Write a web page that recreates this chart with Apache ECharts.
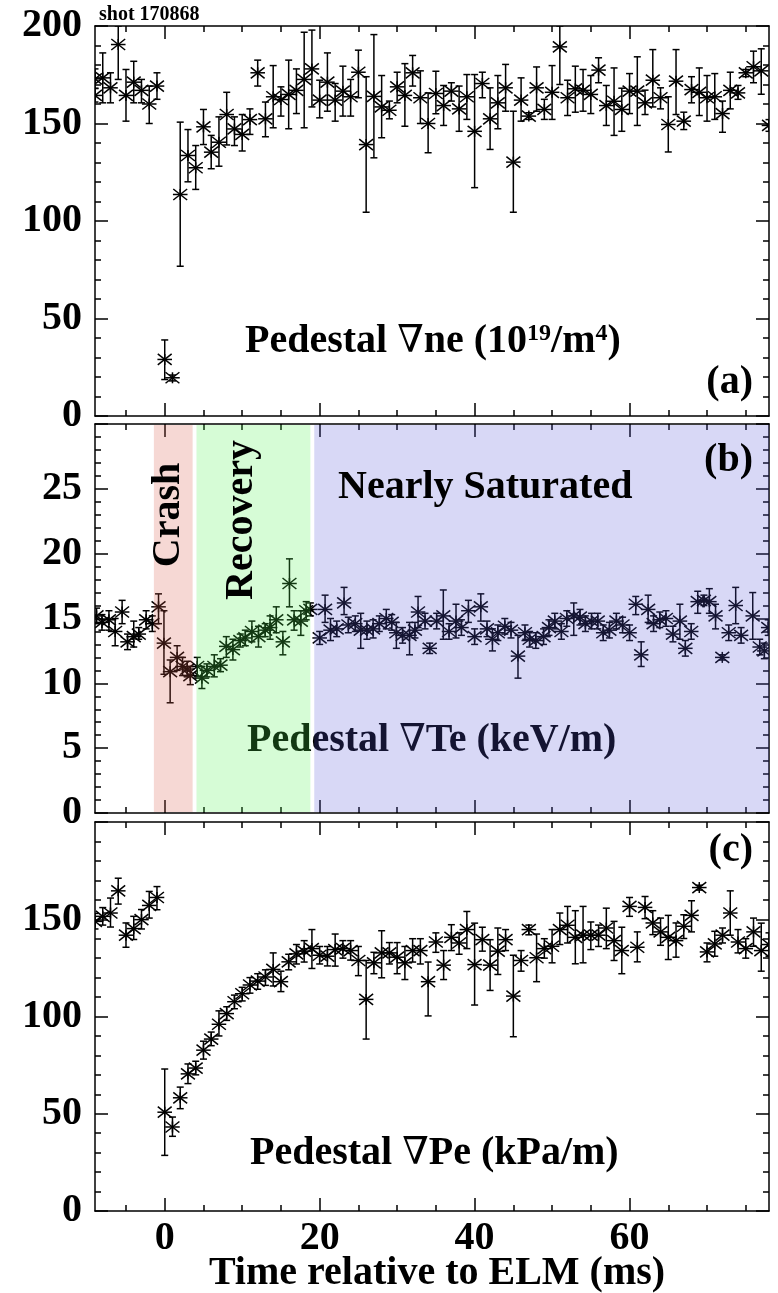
<!DOCTYPE html>
<html><head><meta charset="utf-8">
<script src="https://cdn.jsdelivr.net/npm/echarts@6/dist/echarts.min.js"></script>
<style>html,body{margin:0;padding:0;background:#fff}#c{width:778px;height:1293px}</style>
</head><body><div id="c"></div>
<script>
// ---------- tick labels ----------
const xMajorTicks = [0, 20, 40, 60];
const xMinorTicks = [-5, 5, 10, 15, 25, 30, 35, 45, 50, 55, 65, 70, 75];

// ---------- panel (a): Pedestal grad ne ----------
const neTime = [-9,-9,-8,-7,-6,-5,-4,-3,-2,-1,
  0,1,2,3,4,5,6,7,8,9, 10,11,12,13,14,15,16,17,18,19, 20,21,22,23,24,25,26,27,28,29,
  30,31,32,33,34,35,36,37,38,39, 40,41,42,43,44,45,46,47,48,49, 50,51,52,53,54,55,56,57,58,59,
  60,61,62,63,64,65,66,67,68,69, 70,71,72,73,74,75,76,77,78];
const neValue = [172.9,164.4,173.4,168.3,190.5,164.4,171.2,167.0,160.0,169.2,
  29.0,19.6,113.6,133.6,127.3,148.3,135.3,140.4,154.6,147.2,
  144.4,152.0,176.0,152.4,163.7,162.3,164.9,167.0,172.6,178.0,
  162.0,171.2,162.0,166.6,163.7,176.3,139.2,163.9,158.5,156.8,
  168.8,164.4,176.0,163.2,150.0,165.4,159.2,166.6,157.5,163.7,
  146.0,170.5,152.4,160.6,168.3,130.2,162.0,153.8,168.3,157.2,
  166.0,189.3,163.2,167.8,167.0,164.9,177.4,159.2,161.4,157.2,
  166.6,166.6,160.6,172.2,163.2,149.5,171.7,151.2,167.4,166.0,
  163.2,163.7,155.1,167.0,165.7,176.0,179.1,177.0,149.0];
const neLow = [168,161,160.6,160.6,172.6,151.2,160.6,160.6,150,162.4,
  18.7,18,76.8,120.1,116.2,139.2,126.8,128.1,139,138.7,
  135.9,144.4,169.2,143.2,147.8,153.8,147.3,155.1,147.8,158.5,
  152.9,156.3,151.2,153.8,153.8,163.2,104.5,132.4,142.7,152.4,
  160.6,148.6,169.2,150,135,155,149,161.5,146,152.1,
  117.1,163.2,136.7,147.3,156.3,104.5,151.2,152.1,156.3,152.1,
  152.1,170,154.1,155.8,156.3,155.1,170.9,149,143.9,146,
  155.1,149,154.6,158.5,157.5,135.4,154.6,146.9,160.6,154.1,
  151.2,152.1,145.5,157.5,162.4,174,170.9,165,146];
const neHigh = [178,168,186.2,176,200,177.7,181.9,172.6,169.2,176,
  39,21,150.7,146.9,138.7,157.2,143.9,153.4,166,153.4,
  154.6,157.5,182.5,161,179.7,168.8,182.5,178,196.8,197.9,
  172.2,186.2,170.5,179.4,172.6,187.6,174,195.6,174.6,161.5,
  176.3,180.7,184.9,177,165.7,176.8,169.5,170.9,169.2,175.1,
  175.1,176.3,168.3,174.6,180.3,156.3,173.4,155.5,179,162.4,
  179.7,200,172.2,179.4,177.7,174.6,183.7,169.5,178.5,168.1,
  175.6,184.2,167.1,187.9,168.3,163.7,187.9,155.8,174,178.5,
  174.6,175.6,161.5,176.3,169.5,177.7,187.1,188.3,152];

// ---------- panel (b): Pedestal grad Te ----------
const teTime = [-8.8,-8.1,-7.2,-6.4,-5.5,-4.8,-4.0,-3.35,-2.4,-1.6,
  -0.8,-0.1,0.7,1.6,2.3,2.9,3.3,4.2,4.8,5.45,
  6.4,7.2,7.95,8.8,9.75,10.4,11.25,12.1,12.97,13.6,
  14.4,15.25,16.1,16.7,17.57,18.26,18.8,20.0,20.7,21.4,
  22.2,23.15,23.7,24.6,25.3,26.1,26.9,27.7,28.6,29.3,
  29.9,30.7,31.6,32.3,32.7,33.6,34.2,35.1,35.96,36.7,
  37.6,38.3,39.2,40.0,40.8,41.6,42.3,43.0,43.9,44.7,
  45.6,46.5,47.1,47.9,48.9,49.6,50.35,51.2,51.9,52.8,
  53.6,54.3,55.1,55.9,56.6,57.4,58.3,59.1,60.0,60.8,
  61.5,62.4,63.1,63.9,64.7,65.6,66.5,67.2,67.96,68.8,
  69.6,70.3,71.1,71.97,72.8,73.7,74.4,75.9,76.8,77.4,77.9];
const teValue = [15.2,14.7,14.9,14.0,15.5,13.2,13.6,13.8,14.9,14.6,
  15.9,13.1,10.9,12.0,11.3,11.1,10.6,11.3,10.4,11.0,
  11.3,11.4,12.85,12.6,13.3,13.5,14.0,13.6,14.1,14.3,
  14.9,13.2,17.7,14.9,14.8,15.6,15.7,13.5,15.7,14.1,
  14.2,16.2,14.5,14.6,14.1,14.1,14.2,14.6,15.0,14.7,
  13.9,13.7,13.7,14.1,15.5,14.8,12.7,14.8,15.2,14.0,
  14.8,14.3,15.6,13.6,15.9,14.2,13.4,13.9,14.4,14.1,
  12.1,13.9,13.4,13.3,13.6,14.3,14.8,14.0,15.0,15.2,
  15.1,14.6,14.8,14.8,13.9,14.1,14.8,14.5,13.9,16.1,
  12.2,15.7,14.6,14.9,15.0,13.8,14.8,12.7,14.0,16.3,
  16.4,16.3,15.2,12.0,13.9,16.0,13.7,15.2,12.8,12.5,14.3];
const teLow = [14.6,14.1,14.1,12.9,14.6,12.6,12.8,13.4,14.2,14.0,
  14.6,10.7,8.5,11.0,10.6,10.5,9.9,10.5,9.6,10.5,
  10.5,10.9,12.0,11.8,12.8,12.9,13.2,12.8,13.6,13.4,
  13.9,12.2,15.9,14.1,13.7,14.9,15.2,13.0,14.7,13.3,
  13.6,15.3,13.9,14.0,12.7,13.4,13.5,14.0,14.2,14.1,
  12.7,13.1,12.2,13.5,14.3,14.2,12.3,14.2,13.4,13.4,
  13.5,13.7,14.7,13.0,14.8,13.6,12.5,13.3,13.8,13.5,
  10.4,13.3,12.8,12.7,13.0,13.7,14.2,13.4,14.4,13.7,
  14.5,14.0,14.2,14.2,13.3,13.5,14.2,13.9,13.3,15.3,
  11.3,14.7,14.0,14.3,14.4,13.2,13.4,12.1,13.4,15.4,
  16.0,15.4,14.2,11.8,13.3,14.6,13.1,13.4,12.2,11.9,13.7];
const teHigh = [15.8,15.3,15.6,15.0,16.4,13.8,14.8,14.3,15.6,15.2,
  16.9,15.6,11.8,12.9,12.0,11.7,11.3,12.0,11.3,11.5,
  12.2,11.9,13.6,13.4,13.8,14.1,14.8,14.4,14.6,15.2,
  15.9,14.0,19.6,15.6,15.6,16.3,16.2,14.0,16.8,15.0,
  14.8,17.4,15.1,15.2,15.4,14.8,14.9,15.2,15.7,15.3,
  14.7,14.3,14.7,14.7,16.7,15.4,13.1,15.4,17.2,14.6,
  16.1,14.9,16.4,14.2,16.9,14.8,14.2,14.5,15.0,14.7,
  13.7,14.5,14.0,13.9,14.2,14.9,15.4,14.6,15.6,16.2,
  15.7,15.2,15.4,15.4,14.5,14.7,15.4,15.1,14.5,16.7,
  13.2,16.8,15.2,15.5,15.6,14.4,16.1,13.3,14.6,17.1,
  16.8,17.3,16.1,12.2,14.5,17.4,14.3,17.0,13.4,13.1,14.9];

// phases shown in panel (b)
const phaseStart = [-1.4, 4.1, 19.3];
const phaseEnd = [3.6, 18.8, 78];

// ---------- panel (c): Pedestal grad Pe ----------
const peTime = [-9,-8,-7,-6,-5,-4,-3,-2,-1,
  0,1,2,3,4,5,6,7,8,9, 10,11,12,13,14,15,16,17,18,19, 20,21,22,23,24,25,26,27,28,29,
  30,31,32,33,34,35,36,37,38,39, 40,41,42,43,44,45,46,47,48,49, 50,51,52,53,54,55,56,57,58,59,
  60,61,62,63,64,65,66,67,68,69, 70,71,72,73,74,75,76,77,78];
const peValue = [148.9,151.5,153.2,164.6,141.8,145.2,149.8,157.1,161.2,
  50.8,43.2,58.2,70.5,73.5,82.7,88.4,96.0,101.5,107.6,
  111.7,116.2,118.2,120.3,124.2,117.9,128.1,132.2,133.6,134.9,
  131.5,131.0,134.4,134.9,133.9,128.8,108.8,127.6,132.7,132.7,
  130.5,127.6,133.9,133.9,117.9,138.3,126.4,140.7,137.8,144.7,
  126.7,139.5,126.4,133.6,139.5,110.5,128.8,144.7,130.2,134.9,
  136.1,144.7,146.9,140.7,141.8,141.8,141.8,145.5,139.0,133.9,
  156.6,135.6,156.1,148.1,143.5,140.7,139.0,146.4,152.0,166.3,
  133.2,137.3,141.8,153.2,138.3,134.9,143.5,133.9,137.0];
const peLow = [145,147,146,157.8,135.6,139.6,145,150.6,154.9,
  28.6,38.4,52.6,65.5,70,78.1,85,90,98,104,
  108,112,114,116,115.7,112.8,124,127,128,124.7,
  127,126,125.9,130,129,121,88.4,122,119.9,127,
  122,119,128,127,100.3,133,119,133.9,132,134.9,
  105.9,133.6,113.4,121.6,133.9,89.6,123.3,142,117.9,130,
  127.6,137,137.8,127.1,127.6,134.4,136,134.9,128.8,122,
  151.5,128.1,150.3,142.1,136.6,129.3,130.5,140.1,143.5,165,
  128.1,131,137.8,141.8,132.7,130,136.1,123.3,131];
const peHigh = [153,156,160.9,171.1,148.1,151.5,155,164.3,166.8,
  73,48.3,63.7,75.6,77,87.3,92,102.9,105,111,
  115,120,122,124,132.7,123.3,132,137,139,144.7,
  136,136,142.4,139,139,136,128.8,133,144.1,138,
  138,136,140,140,128,143,133.9,147.2,143,154,
  148,145.9,139.5,145.5,144.7,131.5,133.9,147,142.4,140,
  144.7,153.2,156.6,154.4,156.6,148.6,147,155.7,148.9,145.9,
  161.2,143.5,161.7,154.4,150.6,152,148.1,152.3,159.5,167.5,
  137.8,143.8,145.5,164.6,144.7,140,150.6,148,143];

// ---------- build ----------
const FONT = '"Liberation Serif","Times New Roman",serif';
const phaseColors = ['rgba(216,87,69,0.23)', 'rgba(78,242,78,0.23)', 'rgba(87,87,216,0.23)'];
const zip = (t, v, lo, hi) => t.map((x, i) => [x, v[i], lo[i], hi[i]]);

function renderPoint(params, api) {
  const t = api.value(0);
  const p = api.coord([t, api.value(1)]);
  const pl = api.coord([t, api.value(2)]);
  const ph = api.coord([t, api.value(3)]);
  const cw = 3.5, mx = 7.3, my = 5.5;
  const st = { stroke: '#000', lineWidth: 1.5, fill: null };
  const L = (x1, y1, x2, y2) => ({ type: 'line', shape: { x1, y1, x2, y2 }, style: st });
  return { type: 'group', children: [
    L(p[0], ph[1], p[0], pl[1]),
    L(p[0] - cw, ph[1], p[0] + cw, ph[1]),
    L(p[0] - cw, pl[1], p[0] + cw, pl[1]),
    L(p[0] - mx, p[1], p[0] + mx, p[1]),
    L(p[0] - mx * 0.95, p[1] - my, p[0] + mx * 0.95, p[1] + my),
    L(p[0] - mx * 0.95, p[1] + my, p[0] + mx * 0.95, p[1] - my),
    L(p[0], p[1] - my, p[0], p[1] + my)
  ]};
}

const grids = [
  { left: 95, right: 9, top: 26, height: 390 },
  { left: 95, right: 9, top: 424, height: 389 },
  { left: 95, right: 9, top: 822, height: 389 }
];
const yCfg = [
  { max: 200, interval: 50, showMax: true },
  { max: 30, interval: 5, showMax: false },
  { max: 200, interval: 50, showMax: false }
];
const lineStyle = { color: '#000', width: 1.5 };
const xAxes = [], yAxes = [];
grids.forEach((g, gi) => {
  [['bottom', true], ['bottom', false], ['top', true], ['top', false]].forEach(([pos, major]) => {
    xAxes.push({
      type: 'value', gridIndex: gi, position: pos, min: -9, max: 78,
      axisLine: { show: major, onZero: false, lineStyle },
      axisTick: { show: true, inside: true, length: major ? 13 : 6, lineStyle, customValues: major ? xMajorTicks : xMinorTicks },
      axisLabel: (gi === 2 && pos === 'bottom' && major) ? {
        show: true, customValues: xMajorTicks, margin: 8, color: '#000',
        fontSize: 40, fontWeight: 'bold', fontFamily: FONT
      } : { show: false },
      splitLine: { show: false }
    });
  });
  ['left', 'right'].forEach(pos => {
    yAxes.push({
      type: 'value', gridIndex: gi, position: pos, min: 0, max: yCfg[gi].max, interval: yCfg[gi].interval,
      axisLine: { show: true, onZero: false, lineStyle },
      axisTick: { show: true, inside: true, length: 13, lineStyle },
      minorTick: { show: true, splitNumber: 5, length: 6, lineStyle },
      axisLabel: pos === 'left' ? {
        show: true, margin: 13, color: '#000', fontSize: 40, fontWeight: 'bold', fontFamily: FONT,
        showMaxLabel: yCfg[gi].showMax
      } : { show: false },
      splitLine: { show: false }
    });
  });
});

const series = [
  { type: 'custom', xAxisIndex: 0, yAxisIndex: 0, clip: true, renderItem: renderPoint,
    encode: { x: 0, y: 1 }, data: zip(neTime, neValue, neLow, neHigh), z: 2 },
  { type: 'custom', xAxisIndex: 4, yAxisIndex: 2, clip: true, renderItem: renderPoint,
    encode: { x: 0, y: 1 }, data: zip(teTime, teValue, teLow, teHigh), z: 2 },
  { type: 'custom', xAxisIndex: 4, yAxisIndex: 2, clip: true, z: 3,
    data: phaseStart.map((s, i) => [s, phaseEnd[i]]),
    renderItem: (params, api) => {
      const a = api.coord([api.value(0), 30]);
      const b = api.coord([api.value(1), 0]);
      return { type: 'rect', shape: { x: a[0], y: a[1] + 1, width: b[0] - a[0], height: b[1] - a[1] - 2 },
        style: { fill: phaseColors[params.dataIndex] } };
    } },
  { type: 'custom', xAxisIndex: 8, yAxisIndex: 4, clip: true, renderItem: renderPoint,
    encode: { x: 0, y: 1 }, data: zip(peTime, peValue, peLow, peHigh), z: 2 }
];

const richStyles = {
  m: { fontSize: 40, fontWeight: 'bold', fontFamily: FONT, fill: '#000' },
  n: { fontSize: 38, fontWeight: 'normal', fontFamily: '"DejaVu Serif", serif', fill: '#000' },
  s: { fontSize: 24, fontWeight: 'bold', fontFamily: FONT, fill: '#000', verticalAlign: 'top' }
};

const T = (text, x, y, opts = {}) => ({
  type: 'text', x, y, rotation: opts.rotation || 0, z: opts.z == null ? 10 : opts.z,
  style: Object.assign({ text, fill: '#000', fontSize: opts.size || 40, fontWeight: 'bold', fontFamily: FONT,
    align: opts.align || 'left', verticalAlign: 'middle' }, opts.style || {})
});

const graphic = [
  T('shot 170868', 99, 15, { size: 20 }),
  T('{m|Pedestal }{n|∇}{m|ne (10}{s|19}{m|/m}{s|4}{m|)}', 245, 342, { style: { rich: richStyles } }),
  T('(a)', 753, 383, { align: 'right' }),
  T('Crash', 169, 515, { align: 'center', rotation: Math.PI / 2 }),
  T('Recovery', 242, 520, { align: 'center', rotation: Math.PI / 2 }),
  T('Nearly Saturated', 338, 488),
  T('(b)', 753, 461, { align: 'right' }),
  T('{m|Pedestal }{n|∇}{m|Te (keV/m)}', 247, 741, { z: 1, style: { rich: richStyles } }),
  T('(c)', 753, 851, { align: 'right' }),
  T('{m|Pedestal }{n|∇}{m|Pe (kPa/m)}', 250, 1154, { style: { rich: richStyles } }),
  T('Time relative to ELM (ms)', 437, 1274, { align: 'center' })
];

const chart = echarts.init(document.getElementById('c'), null, { renderer: 'canvas' });
chart.setOption({
  animation: false, backgroundColor: '#fff',
  grid: grids, xAxis: xAxes, yAxis: yAxes, series, graphic
});
</script></body></html>
